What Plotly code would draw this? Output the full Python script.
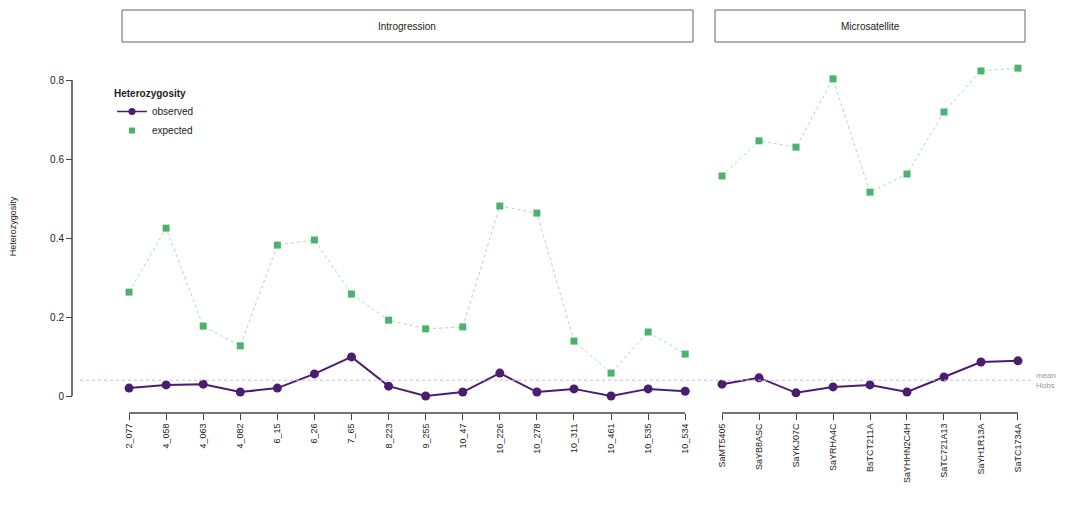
import plotly.graph_objects as go

W, H = 1066, 525

# SNP loci (left panel)
snp_loci = ["2_077", "4_058", "4_063", "4_082", "6_15", "6_26", "7_65", "8_223",
            "9_255", "10_47", "10_226", "10_278", "10_311", "10_461", "10_535", "10_534"]
snp_observed = [0.020, 0.028, 0.030, 0.010, 0.020, 0.056, 0.099, 0.025,
                0.000, 0.010, 0.058, 0.010, 0.018, 0.000, 0.018, 0.012]
snp_expected = [0.263, 0.425, 0.177, 0.127, 0.382, 0.395, 0.258, 0.192,
                0.170, 0.175, 0.481, 0.463, 0.139, 0.058, 0.162, 0.106]

# Microsatellite loci (right panel)
msat_loci = ["SaMT5405", "SaYB8ASC", "SaYKJ07C", "SaYRHA4C", "BsTCT211A",
             "SaYHHN2C4H", "SaTC721A13", "SaYH1R13A", "SaTC1734A"]
msat_observed = [0.030, 0.046, 0.008, 0.023, 0.028, 0.010, 0.048, 0.086, 0.089]
msat_expected = [0.557, 0.646, 0.630, 0.803, 0.516, 0.562, 0.719, 0.823, 0.830]

panel_titles = ["Introgression", "Microsatellite"]
y_ticks = [0, 0.2, 0.4, 0.6, 0.8]
y_ticktext = ["0", "0.2", "0.4", "0.6", "0.8"]
threshold = 0.04

OBS_COLOR = "#4a1d6e"
EXP_MARK = "#4cb36f"
EXP_LINE = "#a8dcb6"


def px(x):
    return x / W


def py(y):
    return 1 - y / H


fig = go.Figure()

for xa, cats, obs, exp in [("x", snp_loci, snp_observed, snp_expected),
                           ("x2", msat_loci, msat_observed, msat_expected)]:
    fig.add_trace(go.Scatter(
        x=cats, y=exp, xaxis=xa, yaxis="y", mode="lines+markers", name="expected",
        line=dict(color=EXP_LINE, width=1, dash="dot"),
        marker=dict(color=EXP_MARK, size=7, symbol="square"),
        showlegend=False))
    fig.add_trace(go.Scatter(
        x=cats, y=obs, xaxis=xa, yaxis="y", mode="lines+markers", name="observed",
        line=dict(color=OBS_COLOR, width=2),
        marker=dict(color=OBS_COLOR, size=9),
        showlegend=False))

# legend entries
fig.add_trace(go.Scatter(x=[None], y=[None], mode="lines+markers", name="observed",
                         line=dict(color=OBS_COLOR, width=1.5),
                         marker=dict(color=OBS_COLOR, size=7), legendrank=1))
fig.add_trace(go.Scatter(x=[None], y=[None], mode="markers", name="expected",
                         marker=dict(color=EXP_MARK, size=6, symbol="square"), legendrank=2))

y_dom = [py(405), py(48)]
y_rng = [(396 - 405) / 395, (396 - 48) / 395]
x_pos = py(413)

axis_font = dict(family="Liberation Sans, Arial, sans-serif", size=9, color="#222")

fig.update_layout(
    width=W, height=H,
    margin=dict(l=0, r=0, t=0, b=0),
    paper_bgcolor="white", plot_bgcolor="white",
    font=dict(family="Liberation Sans, Arial, sans-serif", size=10, color="#222"),
    xaxis=dict(domain=[px(122), px(693)], type="category", range=[-0.19, 15.21],
               anchor="free", position=x_pos, tickangle=-90, ticks="outside", ticklen=6,
               tickcolor="#444", showline=False, showgrid=False, zeroline=False,
               tickfont=axis_font),
    xaxis2=dict(domain=[px(715), px(1025)], type="category", range=[-0.19, 8.19],
                anchor="free", position=x_pos, tickangle=-90, ticks="outside", ticklen=6,
                tickcolor="#444", showline=False, showgrid=False, zeroline=False,
                tickfont=axis_font),
    yaxis=dict(domain=y_dom, range=y_rng, anchor="free", position=px(72),
               tickvals=y_ticks, ticktext=y_ticktext, ticks="outside", ticklen=6,
               tickcolor="#444", showline=False, showgrid=False, zeroline=False,
               tickfont=dict(family="Liberation Sans, Arial, sans-serif", size=10, color="#222"),
               title=dict(text="Heterozygosity", font=dict(size=9), standoff=30)),
    legend=dict(x=px(112), y=py(84), xanchor="left", yanchor="top",
                bgcolor="rgba(0,0,0,0)", font=dict(size=10),
                title=dict(text="<b>Heterozygosity</b>", font=dict(size=10)),
                tracegroupgap=0, itemwidth=30),
)

shapes = [
    # axis lines
    dict(type="line", xref="paper", yref="y", x0=px(72), x1=px(72), y0=0, y1=0.8,
         line=dict(color="#444", width=1.5)),
    dict(type="line", xref="x", yref="paper", x0=0, x1=len(snp_loci) - 1, y0=x_pos, y1=x_pos,
         line=dict(color="#444", width=1.5)),
    dict(type="line", xref="x2", yref="paper", x0=0, x1=len(msat_loci) - 1, y0=x_pos, y1=x_pos,
         line=dict(color="#444", width=1.5)),
    # threshold line
    dict(type="line", xref="paper", yref="y", x0=px(80), x1=px(1032), y0=threshold, y1=threshold,
         line=dict(color="#d6b3d6", width=1, dash="dot")),
    # panel strips
    dict(type="rect", xref="paper", yref="paper", x0=px(122), x1=px(693), y0=py(42), y1=py(10),
         line=dict(color="#666", width=1), fillcolor="white", layer="below"),
    dict(type="rect", xref="paper", yref="paper", x0=px(715), x1=px(1025), y0=py(42), y1=py(10),
         line=dict(color="#666", width=1), fillcolor="white", layer="below"),
]
fig.update_layout(shapes=shapes)

annotations = [
    dict(text=panel_titles[0], xref="paper", yref="paper", x=px(407), y=py(26),
         xanchor="center", yanchor="middle", showarrow=False, font=dict(size=10)),
    dict(text=panel_titles[1], xref="paper", yref="paper", x=px(870), y=py(26),
         xanchor="center", yanchor="middle", showarrow=False, font=dict(size=10)),
    dict(text="mean<br>Hobs", xref="paper", yref="y", x=px(1034), y=threshold,
         xanchor="left", yanchor="middle", showarrow=False,
         font=dict(size=8, color="#999"), align="left"),
]
fig.update_layout(annotations=annotations)

fig.write_html("out.html")
